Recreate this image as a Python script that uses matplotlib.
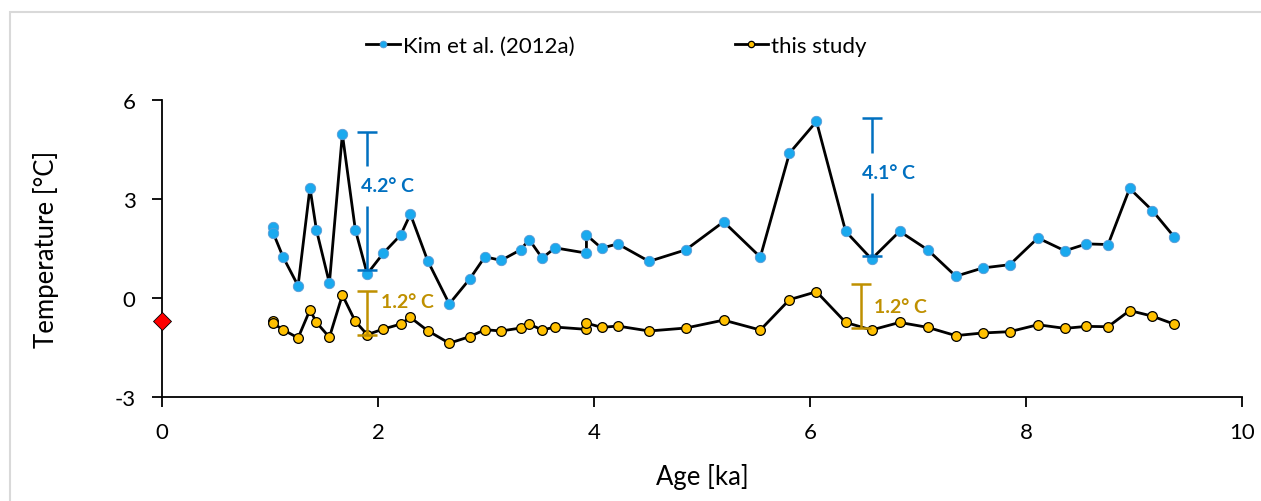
import matplotlib
matplotlib.use("Agg")
import matplotlib.pyplot as plt

# ages [ka] shared by both records
ages = [1.03, 1.03, 1.12, 1.26, 1.37, 1.43, 1.55, 1.67, 1.79, 1.90,
        2.05, 2.21, 2.30, 2.46, 2.66, 2.85, 2.99, 3.14, 3.32, 3.40,
        3.52, 3.64, 3.93, 3.93, 4.07, 4.22, 4.51, 4.85, 5.20, 5.54,
        5.81, 6.06, 6.33, 6.57, 6.83, 7.09, 7.35, 7.60, 7.85, 8.11,
        8.36, 8.56, 8.76, 8.96, 9.17, 9.37]

temp_kim = [2.14, 1.97, 1.25, 0.37, 3.34, 2.06, 0.45, 4.97, 2.07, 0.73,
            1.36, 1.91, 2.54, 1.13, -0.18, 0.58, 1.25, 1.14, 1.46, 1.77,
            1.21, 1.52, 1.36, 1.91, 1.51, 1.64, 1.11, 1.46, 2.31, 1.24,
            4.39, 5.35, 2.02, 1.18, 2.02, 1.46, 0.66, 0.91, 1.01, 1.82,
            1.43, 1.64, 1.62, 3.32, 2.65, 1.86]

temp_study = [-0.71, -0.77, -0.96, -1.21, -0.36, -0.74, -1.19, 0.09, -0.71, -1.11,
              -0.94, -0.79, -0.59, -0.99, -1.37, -1.17, -0.96, -1.00, -0.91, -0.79,
              -0.97, -0.88, -0.95, -0.76, -0.89, -0.85, -1.00, -0.91, -0.67, -0.97,
              -0.05, 0.19, -0.74, -0.97, -0.74, -0.89, -1.14, -1.06, -1.02, -0.81,
              -0.92, -0.86, -0.87, -0.38, -0.55, -0.79]

modern_age = [0.0]
modern_temp = [-0.70]

# range bars: x, low, high, label, label x, label y
kim_bar_x = [1.90, 6.57]
kim_bar_lo = [0.85, 1.26]
kim_bar_hi = [5.02, 5.45]
kim_bar_lbl = ["4.2° C", "4.1° C"]
kim_lbl_x = [1.84, 6.48]
kim_lbl_y = [3.40, 3.79]

study_bar_x = [1.90, 6.47]
study_bar_lo = [-1.12, -0.90]
study_bar_hi = [0.22, 0.42]
study_bar_lbl = ["1.2° C", "1.2° C"]
study_lbl_x = [2.03, 6.59]
study_lbl_y = [-0.11, -0.25]

BLUE = "#0070C0"
GOLD = "#BF9000"

plt.rcParams['font.family'] = ['Lato', 'DejaVu Sans']
plt.rcParams['axes.unicode_minus'] = False

fig = plt.figure(figsize=(12.61, 5.02), dpi=100)
ax = fig.add_axes([162/1261, 1-398/502, (1242-162)/1261, (398-101)/502])

ax.plot(ages, temp_kim, color="black", lw=2.0, marker="o", ms=7.5,
        mfc="#1AA9EE", mec="#5B9BD5", mew=0.6, label="Kim et al. (2012a)", zorder=3)
ax.plot(ages, temp_study, color="black", lw=2.0, marker="o", ms=7,
        mfc="#FFC000", mec="black", mew=0.9, label="this study", zorder=3)
ax.plot(modern_age, modern_temp, ls="none", marker="D", ms=9.5,
        mfc="red", mec="black", mew=0.6, clip_on=False, zorder=5)

# blue range bars, broken where the label sits
gap = 0.6
for x, lo, hi, ly in zip(kim_bar_x, kim_bar_lo, kim_bar_hi, kim_lbl_y):
    ax.vlines([x, x], [lo, ly + gap], [ly - gap, hi], color=BLUE, lw=1.8, zorder=4)
    ax.plot([x, x], [lo, hi], ls="none", marker="_", ms=15, mew=1.8, color=BLUE, zorder=4)
for x, lo, hi in zip(study_bar_x, study_bar_lo, study_bar_hi):
    ax.vlines(x, lo, hi, color=GOLD, lw=1.8, zorder=4)
    ax.plot([x, x], [lo, hi], ls="none", marker="_", ms=15, mew=1.8, color=GOLD, zorder=4)

for x, y, t in zip(kim_lbl_x, kim_lbl_y, kim_bar_lbl):
    ax.text(x, y, t, color=BLUE, fontsize=14, fontweight="bold", ha="left", va="center",
            bbox=dict(boxstyle="square,pad=0.1", fc="white", ec="none"), zorder=6)
for x, y, t in zip(study_lbl_x, study_lbl_y, study_bar_lbl):
    ax.text(x, y, t, color=GOLD, fontsize=14, fontweight="bold", ha="left", va="center",
            zorder=6)

ax.set_xlim(0, 10)
ax.set_ylim(-3, 6)
ax.set_xticks([0, 2, 4, 6, 8, 10])
ax.set_yticks([-3, 0, 3, 6])
ax.spines["top"].set_visible(False)
ax.spines["right"].set_visible(False)
ax.spines["left"].set_linewidth(1.3)
ax.spines["bottom"].set_linewidth(1.3)
ax.tick_params(axis="both", direction="out", length=7, width=1.3, labelsize=16)
ax.tick_params(axis="y", pad=12)
ax.tick_params(axis="x", pad=11)
ax.set_xlabel("Age [ka]", fontsize=18.5, labelpad=15)
ax.set_ylabel("Temperature [°C]", fontsize=18.5, labelpad=40)

fig.legend(loc="center", bbox_to_anchor=(0.489, 0.907), ncol=2, frameon=False,
           fontsize=16, handlelength=1.5, handletextpad=0.15, columnspacing=7.2,
           markerscale=0.65)

fig.patches.append(plt.Rectangle((10/1261, -0.1), 1.2, 1.1 - 13/502, fill=False,
                                 edgecolor="#d9d9d9", lw=1.5, transform=fig.transFigure))

fig.savefig("out.png", dpi=100)
